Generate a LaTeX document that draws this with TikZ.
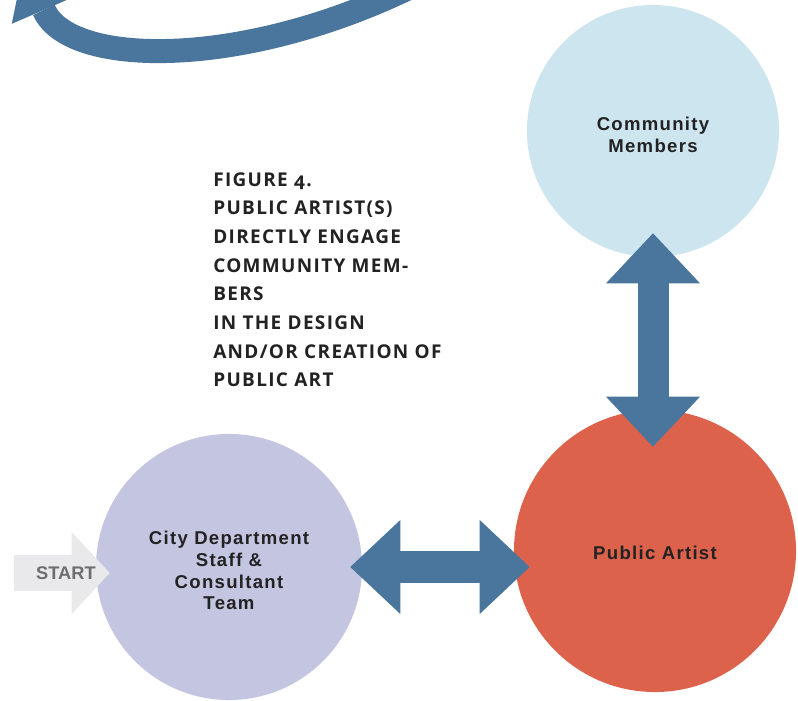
\documentclass[tikz,border=0pt]{standalone}
\usepackage{fontspec}
\setmainfont{Liberation Sans}
\newfontfamily\labelfont[LetterSpace=7]{Liberation Sans}
\newfontfamily\titlefont[Numbers=OldStyle,LetterSpace=7]{Open Sans}
\usetikzlibrary{arrows.meta}

\definecolor{linkblue}{HTML}{4A769D}
\definecolor{membersblue}{HTML}{CCE5EF}
\definecolor{artistred}{HTML}{DC624B}
\definecolor{cityviolet}{HTML}{C4C5E1}
\definecolor{startgray}{HTML}{E9E9EB}
\definecolor{startink}{HTML}{6D6D6F}
\definecolor{ink}{HTML}{222222}

\tikzset{
  member/.style={circle, inner sep=0pt},
  memberlabel/.style={align=center, text=ink,
    font=\labelfont\bfseries\fontsize{13.2}{15.4}\selectfont},
  link/.style={line width=0.775cm, draw=linkblue,
    {Triangle[length=1.25cm,width=2.35cm,line width=0pt]}-{Triangle[length=1.25cm,width=2.35cm,line width=0pt]}},
  backlink/.style={line width=0.6cm, draw=linkblue,
    -{Triangle[length=1.25cm,width=1.75cm,line width=0pt]}},
  startlink/.style={line width=0.875cm, draw=startgray,
    -{Triangle[length=0.95cm,width=2.05cm,line width=0pt]}},
}

\begin{document}
\begin{tikzpicture}[x=0.025cm, y=0.025cm]
  \useasboundingbox (0,0) rectangle (798,700);
  \clip (0,0) rectangle (798,700);
  % circles
  \node[member, fill=membersblue, minimum size=6.3cm] (members) at (653,569) {};
  \node[member, fill=artistred, minimum size=7.05cm] (artist) at (655,149) {};
  \node[member, fill=cityviolet, minimum size=6.65cm] (city) at (229,133) {};
  \node[memberlabel] (members-label) at ([yshift=-0.09cm]members) {Community\\Members};
  \node[memberlabel] (artist-label) at ([yshift=-0.05cm]artist) {Public Artist};
  \node[memberlabel] (city-label) at ([yshift=-0.09cm]city) {City Department\\Staff \&\\Consultant\\Team};
  % links between the circles
  \draw[link] ([yshift=0.6cm]members.south) -- ([yshift=-0.925cm]members.south |- artist.north);
  \draw[link] ([xshift=-0.3cm]city.east) -- ([xshift=0.4cm]city.east -| artist.west);
  % start
  \coordinate (tail) at (14,127);
  \draw[startlink] (tail) -- ([xshift=0.35cm]tail -| city.west);
  \node[text=startink, font=\bfseries\fontsize{13}{15}\selectfont] (start) at (66,127) {START};
  % caption
  \node[anchor=north west, inner sep=0pt, align=left, text=ink,
    font=\titlefont\bfseries\fontsize{13.5}{20.4}\selectfont] (caption) at (213,528)
    {FIGURE 4.\\PUBLIC ARTIST(S)\\DIRECTLY ENGAGE\\COMMUNITY MEM-\\BERS\\IN THE DESIGN\\AND/OR CREATION OF\\PUBLIC ART};
  % arc coming back at the top
  \coordinate (arcfrom) at (440,728);
  \coordinate (arcto) at (24,736);
  \draw[backlink] (arcfrom) .. controls (260,630) and (70,630) .. (arcto);
\end{tikzpicture}
\end{document}
